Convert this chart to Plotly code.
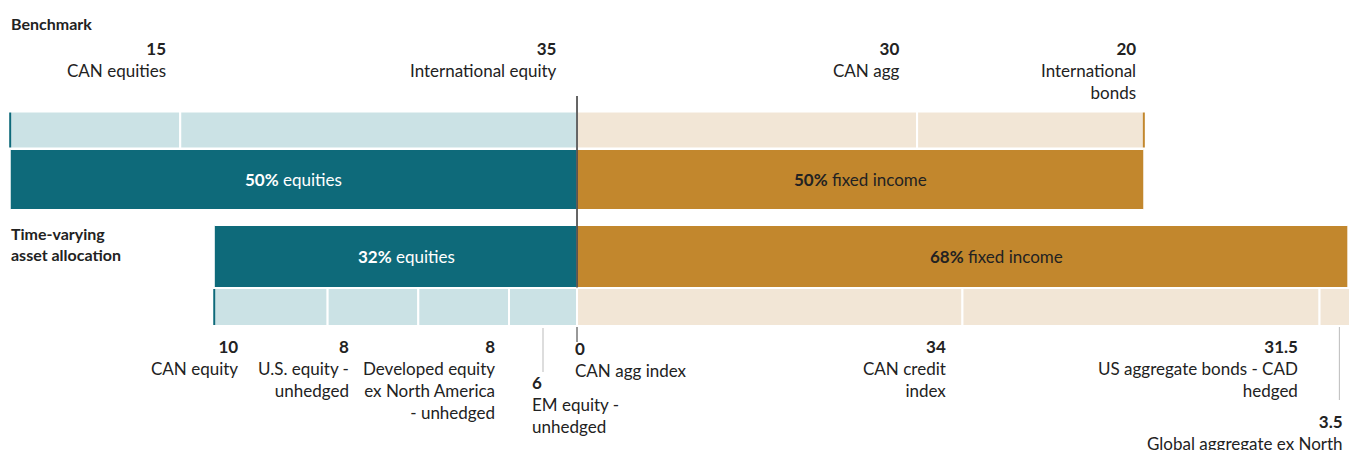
import plotly.graph_objects as go
import numpy as np

# ---------------- data ----------------
bm_eq_names = ["CAN equities", "International equity"]
bm_eq_vals = [15, 35]
bm_fi_names = ["CAN agg", "International<br>bonds"]
bm_fi_vals = [30, 20]

tv_eq_names = ["CAN equity", "U.S. equity -<br>unhedged", "Developed equity<br>ex North America<br>- unhedged", "EM equity -<br>unhedged"]
tv_eq_vals = [10, 8, 8, 6]
tv_fi_names = ["CAN agg index", "CAN credit<br>index", "US aggregate bonds - CAD<br>hedged", "Global aggregate ex North<br>America - CAD hedged"]
tv_fi_vals = [0, 34, 31.5, 3.5]

bm_totals = [50, 50]   # equities, fixed income
tv_totals = [32, 68]
row_titles = ["Benchmark", "Time-varying<br>asset allocation"]

# ---------------- style ----------------
TEAL = "#0e6a7a"
LTEAL = "#cbe2e5"
GOLD = "#c2872d"
LGOLD = "#f2e6d6"
TXT = "#222222"
FONT = "Lato"
FS = 17

# y layout (pixel-like units, y axis reversed 0..450)
Y_BM_SUB, W_BM_SUB = 130, 37
Y_BM_MAIN, W_BM_MAIN = 179.5, 60
Y_TV_MAIN, W_TV_MAIN = 256.5, 62
Y_TV_SUB, W_TV_SUB = 307, 38


def left_segments(vals):
    total = sum(vals)
    starts = -total + np.concatenate([[0], np.cumsum(vals)[:-1]])
    return list(starts), list(np.asarray(starts) + np.asarray(vals))


def right_segments(vals):
    starts = np.concatenate([[0], np.cumsum(vals)[:-1]])
    return list(starts), list(starts + np.asarray(vals))


fig = go.Figure()

def add_bar(bases, widths, y, h, colors, line_w):
    fig.add_trace(go.Bar(
        orientation="h", base=bases, x=widths, y=[y] * len(bases), width=[h] * len(bases),
        marker=dict(color=colors, line=dict(color="white", width=line_w)),
        hoverinfo="skip", showlegend=False))

# benchmark sub bar
bs_l, be_l = left_segments(bm_eq_vals)
bs_r, be_r = right_segments(bm_fi_vals)
add_bar(bs_l + bs_r, bm_eq_vals + bm_fi_vals, Y_BM_SUB, W_BM_SUB,
        [LTEAL] * len(bm_eq_vals) + [LGOLD] * len(bm_fi_vals), 2)
# benchmark main
add_bar([-bm_totals[0], 0], bm_totals, Y_BM_MAIN, W_BM_MAIN, [TEAL, GOLD], 1)
# time-varying main
add_bar([-tv_totals[0], 0], tv_totals, Y_TV_MAIN, W_TV_MAIN, [TEAL, GOLD], 1)
# time-varying sub
ts_l, te_l = left_segments(tv_eq_vals)
ts_r, te_r = right_segments(tv_fi_vals)
add_bar(ts_l + ts_r, tv_eq_vals + tv_fi_vals, Y_TV_SUB, W_TV_SUB,
        [LTEAL] * len(tv_eq_vals) + [LGOLD] * len(tv_fi_vals), 2)

shapes = []
# edge marks
shapes.append(dict(type="line", xref="x", yref="y", x0=bs_l[0], x1=bs_l[0],
                   y0=Y_BM_SUB - W_BM_SUB / 2 + 1, y1=Y_BM_SUB + W_BM_SUB / 2 - 1,
                   line=dict(color=TEAL, width=2)))
shapes.append(dict(type="line", xref="x", yref="y", x0=be_r[-1], x1=be_r[-1],
                   y0=Y_BM_SUB - W_BM_SUB / 2 + 1, y1=Y_BM_SUB + W_BM_SUB / 2 - 1,
                   line=dict(color=GOLD, width=2)))
shapes.append(dict(type="line", xref="x", yref="y", x0=ts_l[0], x1=ts_l[0],
                   y0=Y_TV_SUB - W_TV_SUB / 2 + 1, y1=Y_TV_SUB + W_TV_SUB / 2 - 1,
                   line=dict(color=TEAL, width=2)))
# center line
shapes.append(dict(type="line", xref="x", yref="y", x0=0, x1=0, y0=96, y1=Y_TV_MAIN + W_TV_MAIN / 2,
                   line=dict(color="#333333", width=1.5)))
shapes.append(dict(type="line", xref="x", yref="y", x0=0, x1=0, y0=327, y1=342,
                   line=dict(color="#333333", width=1)))

annotations = []

def ann(x, y, text, xanchor="right", yanchor="top", xshift=0, size=FS, color=TXT, xref="x"):
    annotations.append(dict(x=x, y=y, xref=xref, yref="y", text=text, showarrow=False,
                            xanchor=xanchor, yanchor=yanchor, xshift=xshift,
                            align=xanchor,
                            font=dict(family=FONT, size=size, color=color)))

def fmt(v):
    return f"{v:g}"

# row titles
ann(0, 23, "<b>" + row_titles[0] + "</b>", xanchor="left", yanchor="middle", xshift=9, size=16, xref="paper")
ann(0, 244, "<b>" + row_titles[1] + "</b>", xanchor="left", yanchor="middle", xshift=9, size=16, xref="paper")

# top labels (benchmark)
top_shift = [-12, -18, -16, -6]
for i, (nm, v, e) in enumerate(zip(bm_eq_names + bm_fi_names, bm_eq_vals + bm_fi_vals, be_l + be_r)):
    ann(e, 36, f"<b>{fmt(v)}</b><br>{nm}", xshift=top_shift[i])

# inside labels
ann(-bm_totals[0] / 2, Y_BM_MAIN, f"<b>{bm_totals[0]}%</b> equities", xanchor="center", yanchor="middle", color="white")
ann(bm_totals[1] / 2, Y_BM_MAIN, f"<b>{bm_totals[1]}%</b> fixed income", xanchor="center", yanchor="middle")
ann(-tv_totals[0] / 2, Y_TV_MAIN, f"<b>{tv_totals[0]}%</b> equities", xanchor="center", yanchor="middle", color="white", xshift=11)
ann(tv_totals[1] / 2, Y_TV_MAIN, f"<b>{tv_totals[1]}%</b> fixed income", xanchor="center", yanchor="middle", xshift=34)

# bottom labels (time-varying)
eq_shift = [26, 23, -12]
eq_x = [ts_l[0], ts_l[1], te_l[2]]
for i in range(3):
    ann(eq_x[i], 334, f"<b>{fmt(tv_eq_vals[i])}</b><br>{tv_eq_names[i]}", xshift=eq_shift[i])
# EM equity with leader tick
em_mid = (ts_l[3] + te_l[3]) / 2
shapes.append(dict(type="line", xref="x", yref="y", x0=em_mid, x1=em_mid, y0=328, y1=372,
                   line=dict(color="#bbbbbb", width=1)))
ann(em_mid, 370, f"<b>{fmt(tv_eq_vals[3])}</b><br>{tv_eq_names[3]}", xanchor="left", xshift=-13)
# CAN agg index (0)
ann(ts_r[0], 336, f"<b>{fmt(tv_fi_vals[0])}</b><br>{tv_fi_names[0]}", xanchor="left", xshift=-4)
# CAN credit, US aggregate
fi_shift = [-14, -20]
for j, i in enumerate([1, 2]):
    ann(te_r[i], 334, f"<b>{fmt(tv_fi_vals[i])}</b><br>{tv_fi_names[i]}", xshift=fi_shift[j])
# Global aggregate with leader tick
g_mid = (ts_r[3] + te_r[3]) / 2
shapes.append(dict(type="line", xref="x", yref="y", x0=g_mid, x1=g_mid, y0=327, y1=400,
                   line=dict(color="#bbbbbb", width=1)))
ann(g_mid, 409, f"<b>{fmt(tv_fi_vals[3])}</b><br>{tv_fi_names[3]}", xshift=6)

fig.update_layout(
    width=1349, height=450,
    margin=dict(l=0, r=0, t=0, b=0),
    paper_bgcolor="white", plot_bgcolor="white",
    barmode="overlay",
    xaxis=dict(visible=False, range=[-50.9, 68.1], fixedrange=True),
    yaxis=dict(visible=False, range=[450, 0], fixedrange=True),
    shapes=shapes, annotations=annotations,
    font=dict(family=FONT, color=TXT),
)

fig.write_html("out.html", config={"displayModeBar": False},
               post_script="document.body.style.margin='0';")
